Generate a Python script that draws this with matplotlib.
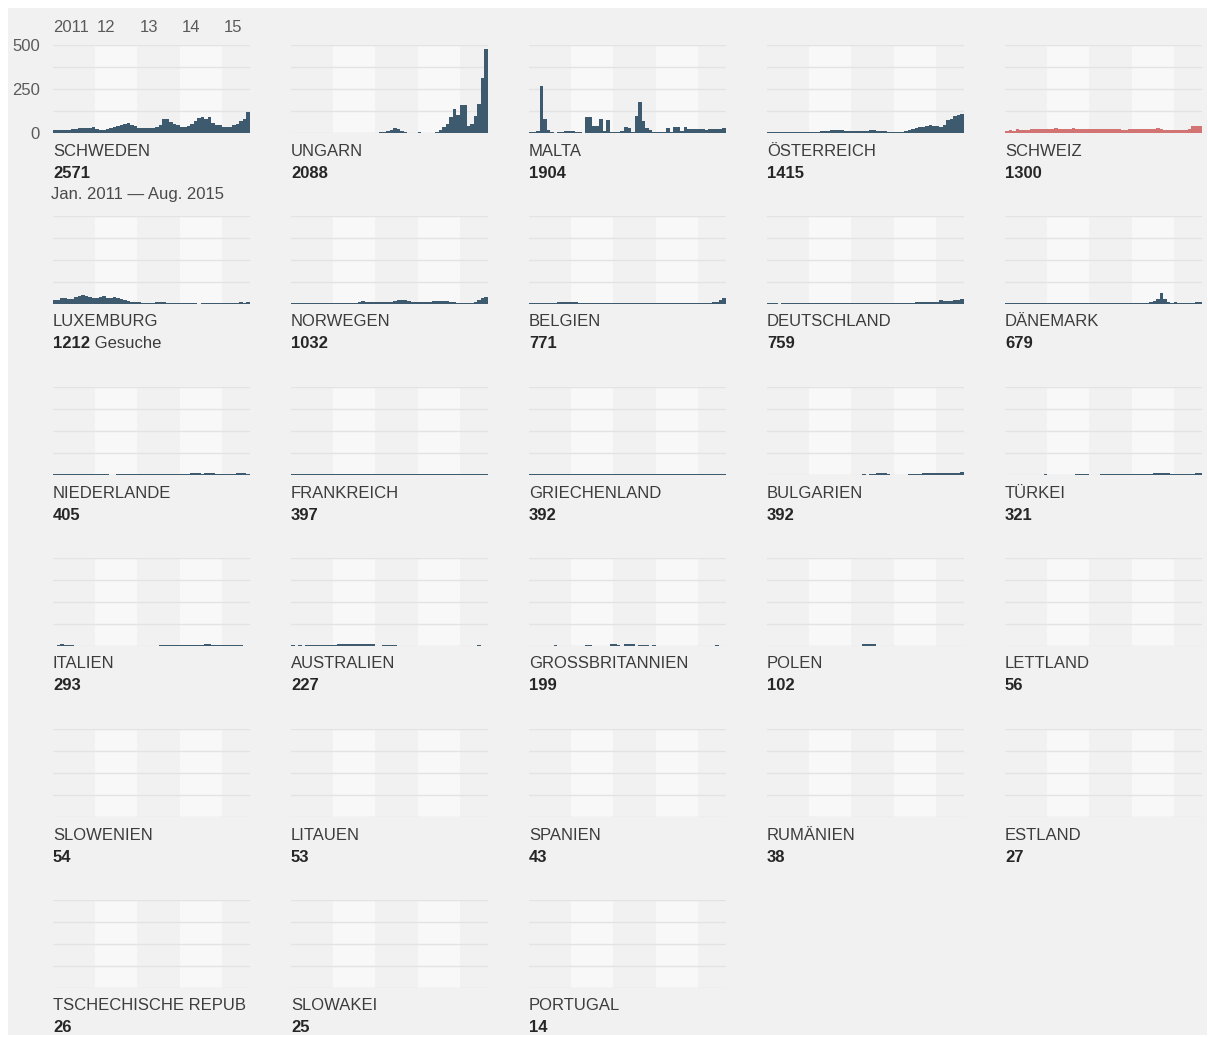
#!/usr/bin/env python3
"""Small multiples: monthly asylum requests per destination country, Jan 2011 - Aug 2015."""

import matplotlib.pyplot as plt
from matplotlib.patches import Rectangle

plt.rcParams["font.family"] = ["Liberation Sans", "DejaVu Sans"]

W, H = 1208, 1037
N_MONTHS = 56  # Jan 2011 .. Aug 2015

countries = [
    "SCHWEDEN", "UNGARN", "MALTA", "ÖSTERREICH", "SCHWEIZ",
    "LUXEMBURG", "NORWEGEN", "BELGIEN", "DEUTSCHLAND", "DÄNEMARK",
    "NIEDERLANDE", "FRANKREICH", "GRIECHENLAND", "BULGARIEN", "TÜRKEI",
    "ITALIEN", "AUSTRALIEN", "GROSSBRITANNIEN", "POLEN", "LETTLAND",
    "SLOWENIEN", "LITAUEN", "SPANIEN", "RUMÄNIEN", "ESTLAND",
    "TSCHECHISCHE REPUB", "SLOWAKEI", "PORTUGAL",
]
totals = [2571, 2088, 1904, 1415, 1300, 1212, 1032, 771, 759, 679,
          405, 397, 392, 392, 321, 293, 227, 199, 102, 56,
          54, 53, 43, 38, 27, 26, 25, 14]
year_labels = ["2011", "12", "13", "14", "15"]
y_ticks = [0, 250, 500]

# monthly values, one row per year (2015 ends in August)
schweden = [15, 15, 16, 16, 18, 20, 24, 26, 26, 28, 30, 32,
            22, 16, 16, 20, 28, 36, 42, 48, 52, 56, 46, 40,
            30, 28, 28, 28, 28, 32, 48, 80, 82, 62, 52, 46,
            36, 36, 40, 50, 66, 86, 90, 82, 92, 58, 48, 44,
            34, 32, 34, 46, 52, 66, 78, 120]
ungarn = [0, 0, 0, 0, 0, 0, 0, 0, 0, 0, 0, 0,
          0, 0, 0, 0, 0, 0, 0, 0, 0, 0, 0, 0,
          0, 3, 8, 12, 18, 26, 24, 12, 4, 2, 2, 2,
          8, 2, 2, 2, 2, 4, 15, 35, 50, 90, 135, 100,
          160, 160, 42, 50, 95, 165, 310, 475]
malta = [5, 8, 10, 265, 80, 18, 5, 0, 8, 8, 10, 10,
         10, 8, 5, 0, 90, 90, 40, 40, 80, 10, 72, 5,
         5, 5, 10, 35, 30, 8, 95, 175, 70, 28, 15, 5,
         5, 5, 3, 30, 5, 35, 35, 12, 35, 20, 20, 20,
         20, 20, 18, 22, 22, 20, 22, 28]
oesterreich = [5, 5, 6, 6, 7, 7, 8, 8, 8, 8, 8, 8,
               8, 8, 8, 10, 10, 10, 18, 18, 18, 18, 10, 10,
               10, 10, 10, 10, 12, 16, 16, 10, 10, 14, 8, 5,
               5, 6, 8, 12, 18, 24, 30, 36, 36, 40, 48, 42,
               40, 36, 44, 76, 82, 96, 102, 106]
schweiz = [12, 18, 14, 20, 16, 16, 18, 20, 22, 24, 24, 22,
           22, 24, 26, 24, 22, 22, 24, 26, 24, 22, 22, 20,
           20, 22, 20, 20, 22, 20, 20, 22, 20, 18, 18, 20,
           20, 22, 24, 20, 22, 22, 24, 26, 24, 18, 18, 18,
           18, 18, 18, 18, 20, 38, 42, 40]
luxemburg = [20, 22, 32, 36, 28, 28, 40, 44, 52, 44, 38, 34,
             32, 40, 44, 34, 32, 40, 36, 28, 24, 18, 14, 12,
             10, 8, 8, 8, 8, 10, 12, 12, 8, 5, 5, 5,
             5, 5, 5, 5, 5, 0, 5, 5, 6, 6, 6, 6,
             5, 5, 6, 6, 6, 10, 8, 14]
norwegen = [8, 8, 8, 8, 8, 8, 8, 8, 8, 8, 8, 8,
            8, 8, 8, 8, 8, 8, 8, 12, 15, 10, 14, 12,
            10, 10, 10, 10, 12, 18, 22, 24, 22, 18, 14, 12,
            12, 12, 12, 14, 16, 16, 16, 16, 16, 14, 10, 6,
            6, 6, 6, 6, 10, 20, 36, 38]
belgien = [6, 8, 8, 6, 6, 6, 6, 8, 10, 12, 12, 12,
           12, 10, 8, 8, 8, 8, 8, 8, 8, 8, 8, 8,
           4, 4, 4, 4, 4, 4, 4, 4, 4, 4, 4, 4,
           4, 4, 4, 4, 4, 4, 4, 4, 6, 8, 8, 4,
           6, 4, 6, 8, 10, 12, 20, 34]
deutschland = [3, 3, 3, 0, 3, 3, 3, 3, 3, 3, 3, 3,
               3, 3, 3, 3, 3, 3, 3, 3, 3, 6, 3, 3,
               3, 3, 3, 3, 3, 6, 6, 6, 6, 6, 4, 4,
               6, 6, 6, 6, 8, 8, 10, 10, 10, 12, 12, 12,
               14, 20, 18, 16, 18, 24, 22, 26]
daenemark = [3, 3, 3, 3, 3, 3, 3, 3, 3, 3, 3, 3,
             3, 3, 3, 3, 3, 3, 3, 3, 3, 3, 3, 3,
             3, 3, 3, 3, 3, 3, 8, 3, 3, 3, 3, 3,
             6, 6, 6, 8, 3, 10, 18, 30, 60, 30, 12, 6,
             10, 6, 4, 4, 4, 6, 10, 14]
niederlande = [7, 7, 7, 7, 7, 7, 7, 7, 7, 7, 7, 7,
               7, 7, 7, 7, 0, 0, 7, 7, 7, 7, 7, 7,
               7, 7, 7, 7, 7, 7, 7, 7, 7, 7, 7, 7,
               7, 7, 7, 12, 12, 12, 7, 12, 12, 12, 7, 7,
               7, 7, 7, 7, 12, 12, 12, 7]
frankreich = [7, 7, 7, 7, 7, 7, 7, 7, 7, 7, 7, 7,
              7, 7, 7, 7, 7, 7, 7, 7, 7, 7, 7, 7,
              7, 7, 7, 7, 7, 7, 7, 7, 7, 7, 7, 7,
              7, 7, 7, 7, 7, 7, 7, 7, 7, 7, 7, 7,
              7, 7, 7, 7, 7, 7, 7, 7]
griechenland = [7, 7, 7, 7, 7, 7, 7, 7, 7, 7, 7, 7,
                7, 7, 7, 7, 7, 7, 7, 7, 7, 7, 7, 7,
                7, 7, 7, 7, 7, 7, 7, 7, 7, 7, 7, 7,
                7, 7, 7, 7, 7, 7, 7, 7, 7, 7, 7, 7,
                7, 7, 7, 7, 7, 7, 7, 7]
bulgarien = [0, 0, 0, 0, 0, 0, 0, 0, 0, 0, 0, 0,
             0, 0, 0, 0, 0, 0, 0, 0, 0, 0, 0, 0,
             0, 0, 0, 8, 0, 8, 8, 14, 14, 12, 8, 0,
             0, 0, 0, 0, 8, 8, 8, 8, 10, 10, 10, 10,
             12, 12, 12, 14, 14, 14, 14, 16]
tuerkei = [0, 0, 0, 0, 0, 0, 0, 0, 0, 0, 0, 6,
           0, 0, 0, 0, 0, 0, 0, 0, 8, 8, 8, 8,
           0, 0, 0, 8, 8, 8, 8, 8, 8, 8, 8, 8,
           8, 8, 8, 8, 8, 8, 12, 12, 12, 12, 12, 8,
           8, 8, 8, 8, 8, 8, 12, 12]
italien = [0, 6, 10, 8, 6, 6, 0, 0, 0, 0, 0, 0,
           0, 0, 0, 0, 0, 0, 0, 0, 0, 0, 0, 0,
           0, 0, 0, 0, 0, 0, 6, 6, 6, 6, 6, 6,
           6, 6, 6, 6, 6, 6, 6, 10, 10, 6, 6, 6,
           6, 6, 6, 6, 6, 6, 0, 0]
australien = [6, 0, 6, 0, 6, 6, 6, 6, 6, 6, 6, 6,
              6, 10, 10, 10, 10, 10, 10, 10, 10, 10, 10, 10,
              0, 0, 8, 8, 8, 8, 0, 0, 0, 0, 0, 0,
              0, 0, 0, 0, 0, 0, 0, 0, 0, 0, 0, 0,
              0, 0, 0, 0, 0, 6, 0, 0]
grossbritannien = [0, 0, 0, 0, 0, 0, 0, 5, 0, 0, 0, 0,
                   0, 0, 0, 0, 6, 6, 0, 0, 0, 0, 0, 10,
                   10, 6, 0, 10, 10, 10, 0, 6, 6, 6, 0, 6,
                   0, 0, 0, 0, 0, 0, 0, 0, 0, 0, 0, 0,
                   0, 0, 0, 0, 0, 5, 0, 0]
polen = [0, 0, 0, 0, 0, 0, 0, 0, 0, 0, 0, 0,
         0, 0, 0, 0, 0, 0, 0, 0, 0, 0, 0, 0,
         0, 0, 0, 10, 10, 10, 10]
lettland = []
slowenien = []
litauen = []
spanien = []
rumaenien = []
estland = []
tschechien = []
slowakei = []
portugal = []

series = [schweden, ungarn, malta, oesterreich, schweiz,
          luxemburg, norwegen, belgien, deutschland, daenemark,
          niederlande, frankreich, griechenland, bulgarien, tuerkei,
          italien, australien, grossbritannien, polen, lettland,
          slowenien, litauen, spanien, rumaenien, estland,
          tschechien, slowakei, portugal]

BAR = "#3d5a6f"
HIGHLIGHT = "#d27473"
BG = "#f1f1f1"
BAND = "#f8f8f8"
GRID = "#e3e3e3"

fig = plt.figure(figsize=(W / 100, H / 100), dpi=100, facecolor="white")
fig.patches.append(Rectangle((8 / W, 1 - 1035 / H), 1199 / W, 1027 / H,
                             transform=fig.transFigure, facecolor=BG,
                             edgecolor="none", zorder=-10))

for i, (name, total, vals) in enumerate(zip(countries, totals, series)):
    row, col = divmod(i, 5)
    left = 53 + 238 * col
    base = 133 + 171 * row
    ax = fig.add_axes([left / W, 1 - base / H, 197 / W, 88 / H])
    ax.set_facecolor("none")
    for s in ax.spines.values():
        s.set_visible(False)

    vals = list(vals) + [0] * (N_MONTHS - len(vals))
    for start in (12, 36):
        ax.axvspan(start, start + 12, color=BAND, lw=0, zorder=0)
    for g in (0, 125, 250, 375, 500):
        ax.axhline(g, color=GRID, lw=1, zorder=1)
    color = HIGHLIGHT if name == "SCHWEIZ" else BAR
    ax.stairs(vals, range(N_MONTHS + 1), fill=True, color=color, lw=0, zorder=2)
    ax.set_xlim(0, N_MONTHS)
    ax.set_ylim(0, 500)
    ax.set_xticks([])

    if i == 0:
        ax.set_yticks(y_ticks)
        ax.set_yticklabels([str(t) for t in y_ticks])
        ax.tick_params(axis="y", length=0, pad=9.5, labelsize=12, labelcolor="#5a5a5a")
        for k, lab in enumerate(year_labels):
            ax.annotate(lab, xy=(12 * k, 1), xycoords=("data", "axes fraction"),
                        xytext=(0 if k == 0 else 2, 17), textcoords="offset pixels",
                        ha="left", va="center", fontsize=12, color="#5a5a5a")
        ax.annotate("Jan. 2011 — Aug. 2015", xy=(0, 0), xycoords="axes fraction",
                    xytext=(-2, -62), textcoords="offset pixels",
                    ha="left", va="center", fontsize=12, color="#4a4a4a")
    else:
        ax.set_yticks([])

    ax.annotate(name, xy=(0, 0), xycoords="axes fraction", xytext=(0, -18),
                textcoords="offset pixels", ha="left", va="center",
                fontsize=12, color="#3c3c3c")
    num = ax.annotate(str(total), xy=(0, 0), xycoords="axes fraction", xytext=(0, -40),
                      textcoords="offset pixels", ha="left", va="center",
                      fontsize=12, fontweight="bold", color="#262626")
    if name == "LUXEMBURG":
        ax.annotate(" Gesuche", xy=(1, 0.5), xycoords=num, ha="left", va="center",
                    fontsize=12, color="#3c3c3c")

fig.savefig("out.png", dpi=100)
